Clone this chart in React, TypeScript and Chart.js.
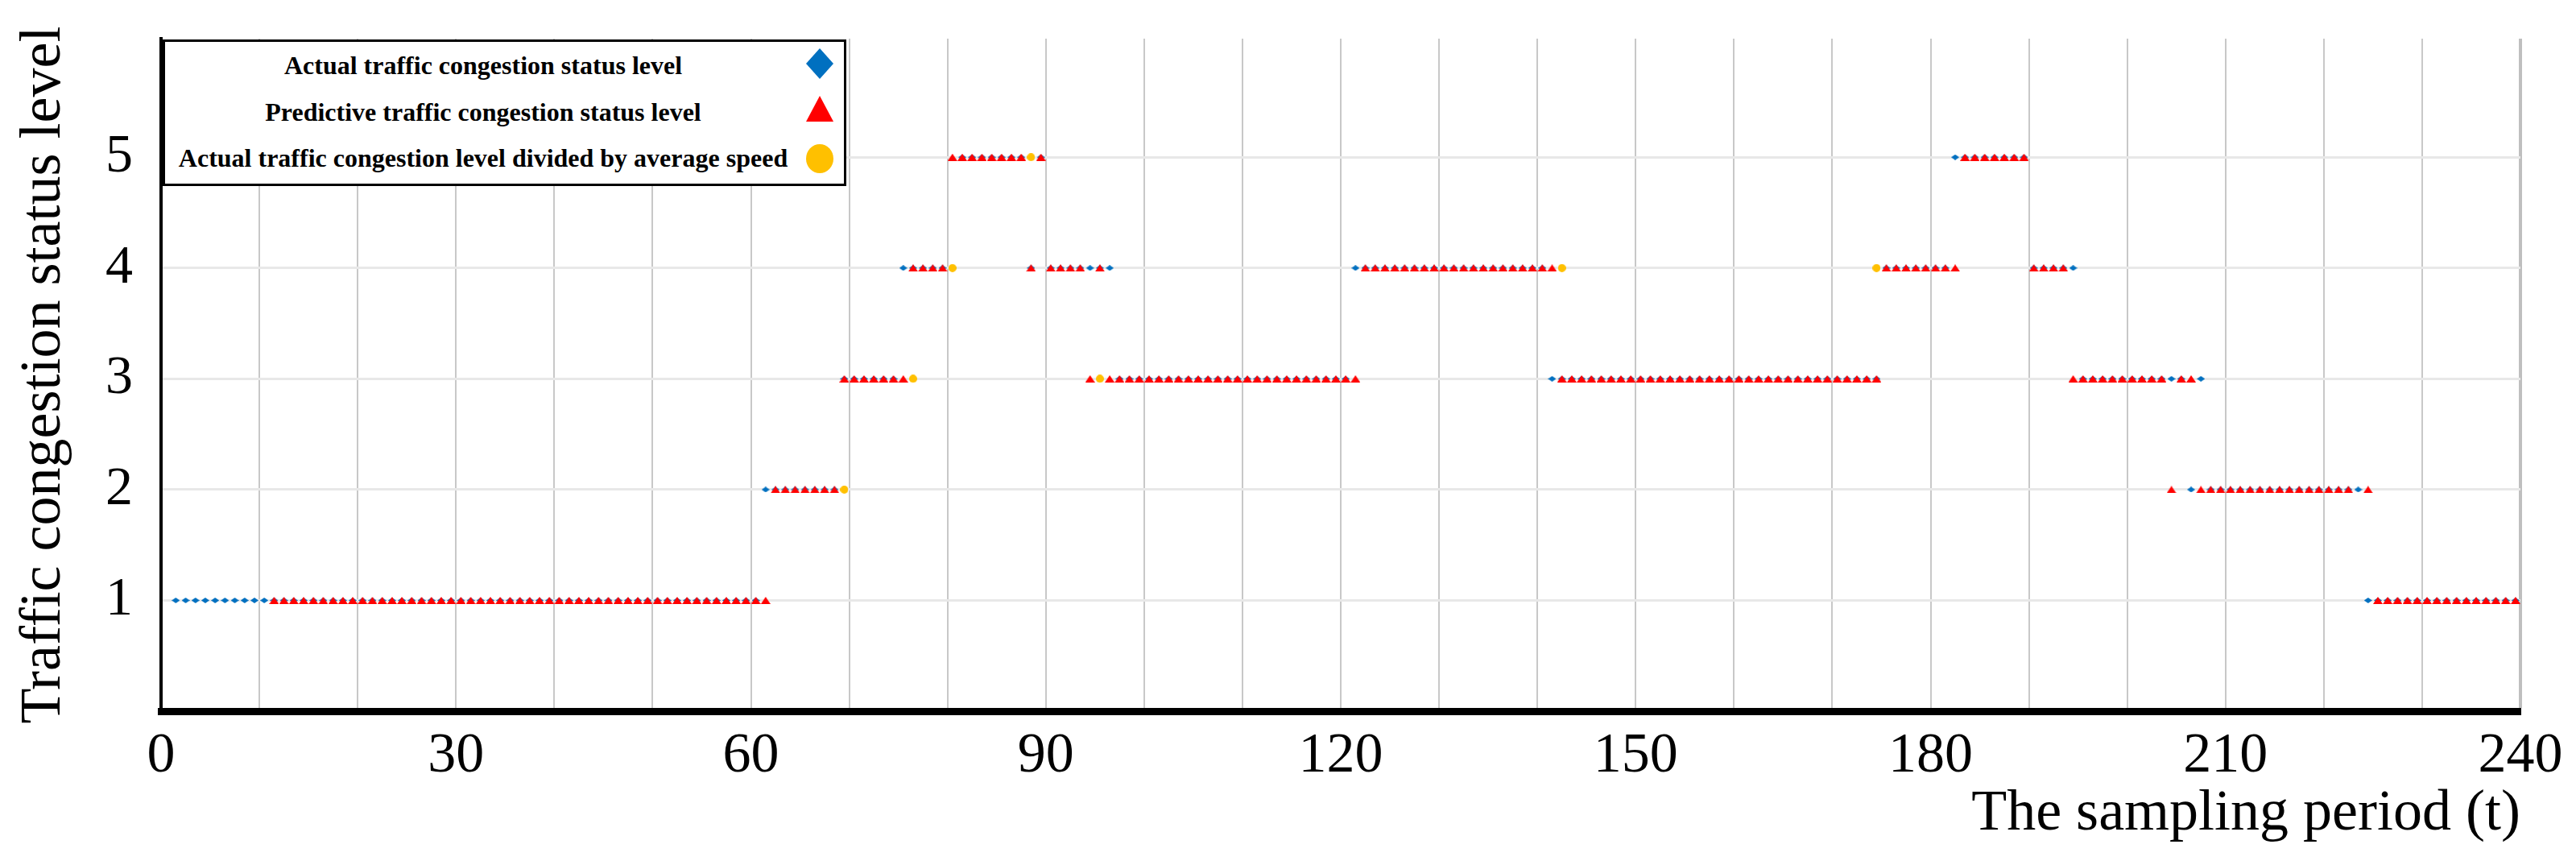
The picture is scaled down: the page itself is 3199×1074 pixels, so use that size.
import React, { useEffect, useRef } from 'react';
import { Chart, registerables } from 'chart.js';

Chart.register(...registerables);

// Sampling periods (categories)
const periods = [
  1, 2, 3, 4, 5, 6, 7, 8, 9, 10, 11, 12, 13, 14, 15, 16, 17, 18, 19, 20,
  21, 22, 23, 24, 25, 26, 27, 28, 29, 30, 31, 32, 33, 34, 35, 36, 37, 38, 39, 40,
  41, 42, 43, 44, 45, 46, 47, 48, 49, 50, 51, 52, 53, 54, 55, 56, 57, 58, 59, 60,
  61, 62, 63, 64, 65, 66, 67, 68, 69, 70, 71, 72, 73, 74, 75, 76, 77, 78, 79, 80,
  81, 82, 83, 84, 85, 86, 87, 88, 89, 90, 91, 92, 93, 94, 95, 96, 97, 98, 99, 100,
  101, 102, 103, 104, 105, 106, 107, 108, 109, 110, 111, 112, 113, 114, 115, 116, 117, 118, 119, 120,
  121, 122, 123, 124, 125, 126, 127, 128, 129, 130, 131, 132, 133, 134, 135, 136, 137, 138, 139, 140,
  141, 142, 143, 144, 145, 146, 147, 148, 149, 150, 151, 152, 153, 154, 155, 156, 157, 158, 159, 160,
  161, 162, 163, 164, 165, 166, 167, 168, 169, 170, 171, 172, 173, 174, 175, 176, 177, 178, 179, 180,
  181, 182, 183, 184, 185, 186, 187, 188, 189, 190, 191, 192, 193, 194, 195, 196, 197, 198, 199, 200,
  201, 202, 203, 204, 205, 206, 207, 208, 209, 210, 211, 212, 213, 214, 215, 216, 217, 218, 219, 220,
  221, 222, 223, 224, 225, 226, 227, 228, 229, 230, 231, 232, 233, 234, 235, 236, 237, 238, 239, 240,
];

// Actual traffic congestion status level (blue diamonds)
const actualLevels = [
  null, 1, 1, 1, 1, 1, 1, 1, 1, 1, 1, 1, 1, 1, 1, 1, 1, 1, 1, 1,
  1, 1, 1, 1, 1, 1, 1, 1, 1, 1, 1, 1, 1, 1, 1, 1, 1, 1, 1, 1,
  1, 1, 1, 1, 1, 1, 1, 1, 1, 1, 1, 1, 1, 1, 1, 1, 1, 1, 1, 1,
  1, 2, 2, 2, 2, 2, 2, 2, 2, 3, 3, 3, 3, 3, 3, 4, 4, 4, 4, 4,
  4, 5, 5, 5, 5, 5, 5, 5, 4, 5, 4, 4, 4, 4, 4, 4, 4, 3, 3, 3,
  3, 3, 3, 3, 3, 3, 3, 3, 3, 3, 3, 3, 3, 3, 3, 3, 3, 3, 3, 3,
  3, 4, 4, 4, 4, 4, 4, 4, 4, 4, 4, 4, 4, 4, 4, 4, 4, 4, 4, 4,
  4, 3, 3, 3, 3, 3, 3, 3, 3, 3, 3, 3, 3, 3, 3, 3, 3, 3, 3, 3,
  3, 3, 3, 3, 3, 3, 3, 3, 3, 3, 3, 3, 3, 3, 3, 4, 4, 4, 4, 4,
  4, 4, 5, 5, 5, 5, 5, 5, 5, 5, 4, 4, 4, 4, 4, 3, 3, 3, 3, 3,
  3, 3, 3, 3, 3, 3, 2, 3, 2, 2, 2, 2, 2, 2, 2, 2, 2, 2, 2, 2,
  2, 2, 2, 2, 1, 1, 1, 1, 1, 1, 1, 1, 1, 1, 1, 1, 1, 1, 1, 1,
];

// Predictive traffic congestion status level (red triangles)
const predictedLevels = [
  null, null, null, null, null, null, null, null, null, null, null, 1, 1, 1, 1, 1, 1, 1, 1, 1,
  1, 1, 1, 1, 1, 1, 1, 1, 1, 1, 1, 1, 1, 1, 1, 1, 1, 1, 1, 1,
  1, 1, 1, 1, 1, 1, 1, 1, 1, 1, 1, 1, 1, 1, 1, 1, 1, 1, 1, 1,
  1, 1, 2, 2, 2, 2, 2, 2, 2, 3, 3, 3, 3, 3, 3, 3, 4, 4, 4, 4,
  5, 5, 5, 5, 5, 5, 5, 5, 4, 5, 4, 4, 4, 4, 3, 4, 3, 3, 3, 3,
  3, 3, 3, 3, 3, 3, 3, 3, 3, 3, 3, 3, 3, 3, 3, 3, 3, 3, 3, 3,
  3, 3, 4, 4, 4, 4, 4, 4, 4, 4, 4, 4, 4, 4, 4, 4, 4, 4, 4, 4,
  4, 4, 3, 3, 3, 3, 3, 3, 3, 3, 3, 3, 3, 3, 3, 3, 3, 3, 3, 3,
  3, 3, 3, 3, 3, 3, 3, 3, 3, 3, 3, 3, 3, 3, 3, 4, 4, 4, 4, 4,
  4, 4, 4, 5, 5, 5, 5, 5, 5, 5, 4, 4, 4, 4, 3, 3, 3, 3, 3, 3,
  3, 3, 3, 3, 2, 3, 3, 2, 2, 2, 2, 2, 2, 2, 2, 2, 2, 2, 2, 2,
  2, 2, 2, null, 2, 1, 1, 1, 1, 1, 1, 1, 1, 1, 1, 1, 1, 1, 1, 1,
];

// Actual level divided by average speed (yellow circles, visible points)
const speedPeriods = [70, 77, 81, 89, 96, 143, 175];
const speedLevels = [2, 3, 4, 5, 3, 4, 4];

const xTickLabels = [0, 30, 60, 90, 120, 150, 180, 210, 240];
const yTickLevels = [1, 2, 3, 4, 5];

const legendLabels = [
  'Actual traffic congestion status level',
  'Predictive traffic congestion status level',
  'Actual traffic congestion level divided by average speed',
];

const BLUE = '#0070C0';
const RED = '#FF0000';
const YELLOW = '#FFC000';
const SERIF = '"Liberation Serif", "Times New Roman", serif';

function makeMarker(kind: string, w: number, h: number, color: string) {
  const c = document.createElement('canvas');
  c.width = w;
  c.height = h;
  const ctx = c.getContext('2d')!;
  ctx.fillStyle = color;
  ctx.beginPath();
  if (kind === 'diamond') {
    ctx.moveTo(w / 2, 0);
    ctx.lineTo(w, h / 2);
    ctx.lineTo(w / 2, h);
    ctx.lineTo(0, h / 2);
  } else if (kind === 'triangle') {
    ctx.moveTo(w / 2, 0);
    ctx.lineTo(w, h);
    ctx.lineTo(0, h);
  } else {
    ctx.ellipse(w / 2, h / 2, w / 2, h / 2, 0, 0, Math.PI * 2);
  }
  ctx.closePath();
  ctx.fill();
  return c;
}

export default function App() {
  const ref = useRef<HTMLCanvasElement>(null);

  useEffect(() => {
    document.body.style.margin = '0';
    const diamond = makeMarker('diamond', 10, 7, BLUE);
    const tri = makeMarker('triangle', 12, 9, RED);
    const circ = makeMarker('circle', 10, 10, YELLOW);

    const chart = new Chart(ref.current!, {
      type: 'line',
      data: {
        labels: periods.map(String),
        datasets: [
          {
            label: legendLabels[0],
            data: actualLevels,
            showLine: false,
            pointStyle: diamond as any,
            pointRadius: 5,
            pointHoverRadius: 5,
            borderColor: BLUE,
            backgroundColor: BLUE,
            order: 3,
          },
          {
            label: legendLabels[1],
            data: predictedLevels,
            showLine: false,
            pointStyle: tri as any,
            pointRadius: 5,
            pointHoverRadius: 5,
            borderColor: RED,
            backgroundColor: RED,
            order: 2,
          },
          {
            label: legendLabels[2],
            data: speedPeriods.map((p, i) => ({ x: String(p), y: speedLevels[i] })) as any,
            showLine: false,
            pointStyle: circ as any,
            pointRadius: 5,
            pointHoverRadius: 5,
            borderColor: YELLOW,
            backgroundColor: YELLOW,
            order: 1,
          },
        ],
      },
      options: {
        animation: false,
        responsive: false,
        events: [],
        layout: { padding: { left: 0, right: 69, top: 48, bottom: 0 } },
        plugins: { legend: { display: false }, tooltip: { enabled: false } },
        scales: {
          x: {
            type: 'category',
            offset: true,
            display: false,
          },
          xt: {
            type: 'linear',
            position: 'bottom',
            min: 0,
            max: 240,
            ticks: {
              stepSize: 10,
              autoSkip: false,
              maxRotation: 0,
              minRotation: 0,
              padding: 15,
              color: '#000',
              font: { family: SERIF, size: 70 },
              callback: (v: any) => (xTickLabels.includes(Number(v)) ? String(v) : ''),
            },
            grid: {
              drawTicks: false,
              color: (ctx: any) =>
                ctx.tick && ctx.tick.value === 0
                  ? 'rgba(0,0,0,0)'
                  : ctx.tick && ctx.tick.value === 240
                  ? '#bfbfbf'
                  : '#c8c8c8',
              lineWidth: (ctx: any) => (ctx.tick && ctx.tick.value === 240 ? 4 : 2),
            },
            border: { display: true, color: '#000', width: 9 },
            title: {
              display: true,
              text: 'The sampling period (t)',
              align: 'end',
              color: '#000',
              font: { family: SERIF, size: 72 },
              padding: { top: 0, bottom: 20 },
            },
            afterFit: (s: any) => {
              s.height = 1074 - 883;
              s.paddingLeft = 0;
              s.paddingRight = 0;
            },
          },
          y: {
            min: 0,
            max: 6.07,
            afterBuildTicks: (s: any) => {
              s.ticks = yTickLevels.map((v) => ({ value: v }));
            },
            ticks: {
              padding: 35,
              color: '#000',
              font: { family: SERIF, size: 68 },
            },
            grid: { drawTicks: false, color: '#e8e8e8', lineWidth: 3 },
            border: { display: true, color: '#000', width: 4 },
            title: {
              display: true,
              text: 'Traffic congestion status level',
              color: '#000',
              font: { family: SERIF, size: 72 },
              padding: { top: 12, bottom: 0 },
            },
            afterFit: (s: any) => {
              s.width = 200;
              s.paddingTop = 0;
              s.paddingBottom = 0;
            },
          },
        },
      } as any,
    });
    return () => chart.destroy();
  }, []);

  const lineStyle = (top: number): React.CSSProperties => ({
    position: 'absolute',
    left: -5,
    width: 800,
    top,
    height: 40,
    lineHeight: '40px',
    textAlign: 'center',
    whiteSpace: 'nowrap',
    fontFamily: SERIF,
    fontWeight: 'bold',
    fontSize: 32,
    color: '#000',
  });

  return (
    <div style={{ position: 'fixed', left: 0, top: 0, width: 3199, height: 1074, background: '#fff' }}>
      <canvas
        ref={ref}
        width={3199}
        height={1074}
        style={{ position: 'absolute', left: 0, top: 0, width: 3199, height: 1074 }}
      />
      <div
        style={{
          position: 'absolute',
          left: 199,
          top: 49,
          width: 852,
          height: 182,
          boxSizing: 'border-box',
          borderTop: '3px solid #000',
          borderRight: '3px solid #000',
          borderBottom: '3px solid #000',
          borderLeft: '6px solid #000',
          background: '#fff',
        }}
      >
        <div style={lineStyle(9)}>{legendLabels[0]}</div>
        <div style={lineStyle(67)}>{legendLabels[1]}</div>
        <div style={lineStyle(124)}>{legendLabels[2]}</div>
        <svg style={{ position: 'absolute', left: 796, top: 8 }} width={34} height={38}>
          <polygon points="17,0 34,19 17,38 0,19" fill={BLUE} />
        </svg>
        <svg style={{ position: 'absolute', left: 796, top: 67 }} width={34} height={32}>
          <polygon points="17,0 34,32 0,32" fill={RED} />
        </svg>
        <svg style={{ position: 'absolute', left: 796, top: 127 }} width={34} height={36}>
          <ellipse cx={17} cy={18} rx={17} ry={18} fill={YELLOW} />
        </svg>
      </div>
    </div>
  );
}
